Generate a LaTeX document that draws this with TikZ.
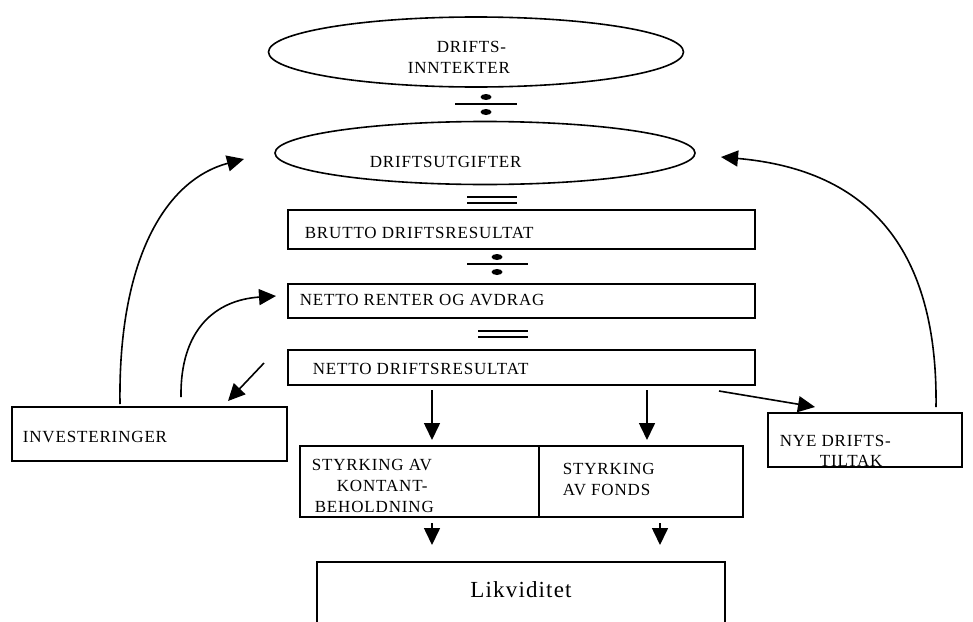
\documentclass[tikz,border=0pt]{standalone}
\usepackage{fontspec}
\setmainfont{Liberation Serif}[LetterSpace=5]
\usetikzlibrary{shapes.geometric,arrows.meta}
\begin{document}
\begin{tikzpicture}[x=1pt,y=-1pt,
  line width=1.6pt,
  lbl/.style={inner sep=0pt,anchor=west,font=\fontsize{17}{19}\selectfont},
  oval/.style={draw,ellipse,inner sep=0pt},
  box/.style={draw,rectangle,inner sep=0pt},
  arr/.style={-{Triangle[length=17pt,width=16pt]}},
  divline/.style={line width=1.6pt}]
\useasboundingbox (0,0) rectangle (973,621);

% ovals
\node[oval,minimum width=415,minimum height=70] (inn) at (476,52) {};
\node[oval,minimum width=420,minimum height=63] (utg) at (485,153) {};
\node[lbl] at (436,47) {DRIFTS-};
\node[lbl] at (407,68) {INNTEKTER};
\node[lbl] at (369,162) {DRIFTSUTGIFTER};

% minus sign between the ovals
\fill (486,97) ellipse [x radius=5.5,y radius=3];
\draw[divline] (455,104) -- (517,104);
\fill (486,112) ellipse [x radius=5.5,y radius=3];

% equals sign
\draw[divline] (467,197) -- (517,197);
\draw[divline] (467,203) -- (517,203);

% result boxes
\node[box,minimum width=467,minimum height=39] (brutto) at (521.5,229.5) {};
\node[lbl] at (304,233) {BRUTTO DRIFTSRESULTAT};

\fill (497,257) ellipse [x radius=5.5,y radius=3];
\draw[divline] (467,264) -- (528,264);
\fill (497,272) ellipse [x radius=5.5,y radius=3];

\node[box,minimum width=467,minimum height=34] (renter) at (521.5,301) {};
\node[lbl] at (299,300) {NETTO RENTER OG AVDRAG};

\draw[divline] (478,331) -- (528,331);
\draw[divline] (478,337) -- (528,337);

\node[box,minimum width=467,minimum height=35] (netto) at (521.5,367.5) {};
\node[lbl] at (312,369) {NETTO DRIFTSRESULTAT};

% side boxes
\node[box,minimum width=275,minimum height=54] (inv) at (149.5,434) {};
\node[lbl] at (22,437) {INVESTERINGER};

\node[box,minimum width=194,minimum height=54] (nye) at (865,440) {};
\node[lbl] at (779,441) {NYE DRIFTS-};
\node[lbl] at (819,461) {TILTAK};

% split boxes
\node[box,minimum width=239,minimum height=71] (kont) at (419.5,481.5) {};
\node[box,minimum width=204,minimum height=71] (fond) at (641,481.5) {};
\node[lbl] at (311,465) {STYRKING AV};
\node[lbl] at (336,486) {KONTANT-};
\node[lbl] at (314,507) {BEHOLDNING};
\node[lbl] at (562,469) {STYRKING};
\node[lbl] at (562,490) {AV FONDS};

% liquidity box, open at the bottom edge
\coordinate (likTL) at (317,562);
\coordinate (likTR) at (725,562);
\draw (317,625) -- (likTL) -- (likTR) -- (725,625);
\node[inner sep=0pt,font=\fontsize{23}{26}\selectfont] (lik) at (521,590) {Likviditet};

% connector end points
\coordinate (invA) at (120,404);
\coordinate (invB) at (181,397);
\coordinate (utgL) at (244,159);
\coordinate (renL) at (276,296);
\coordinate (netL) at (264,363);
\coordinate (invT) at (228,401);
\coordinate (netR) at (719,391);
\coordinate (nyeT) at (815,407);
\coordinate (nyeA) at (936,407);
\coordinate (utgR) at (721,157);
\coordinate (d1a) at (432,390);
\coordinate (d1b) at (432,440);
\coordinate (d2a) at (647,390);
\coordinate (d2b) at (647,440);
\coordinate (d3a) at (432,523);
\coordinate (d3b) at (432,545);
\coordinate (d4a) at (660,523);
\coordinate (d4b) at (660,545);

% connectors
\draw[arr] (invA) .. controls (118,260) and (165,180) .. (utgL);
\draw[arr] (invB) .. controls (180,330) and (215,300) .. (renL);
\draw[arr] (netL) -- (invT);
\draw[arr] (netR) -- (nyeT);
\draw[arr] (nyeA) .. controls (938,250) and (870,170) .. (utgR);
\draw[arr] (d1a) -- (d1b);
\draw[arr] (d2a) -- (d2b);
\draw[arr] (d3a) -- (d3b);
\draw[arr] (d4a) -- (d4b);
\end{tikzpicture}
\end{document}
